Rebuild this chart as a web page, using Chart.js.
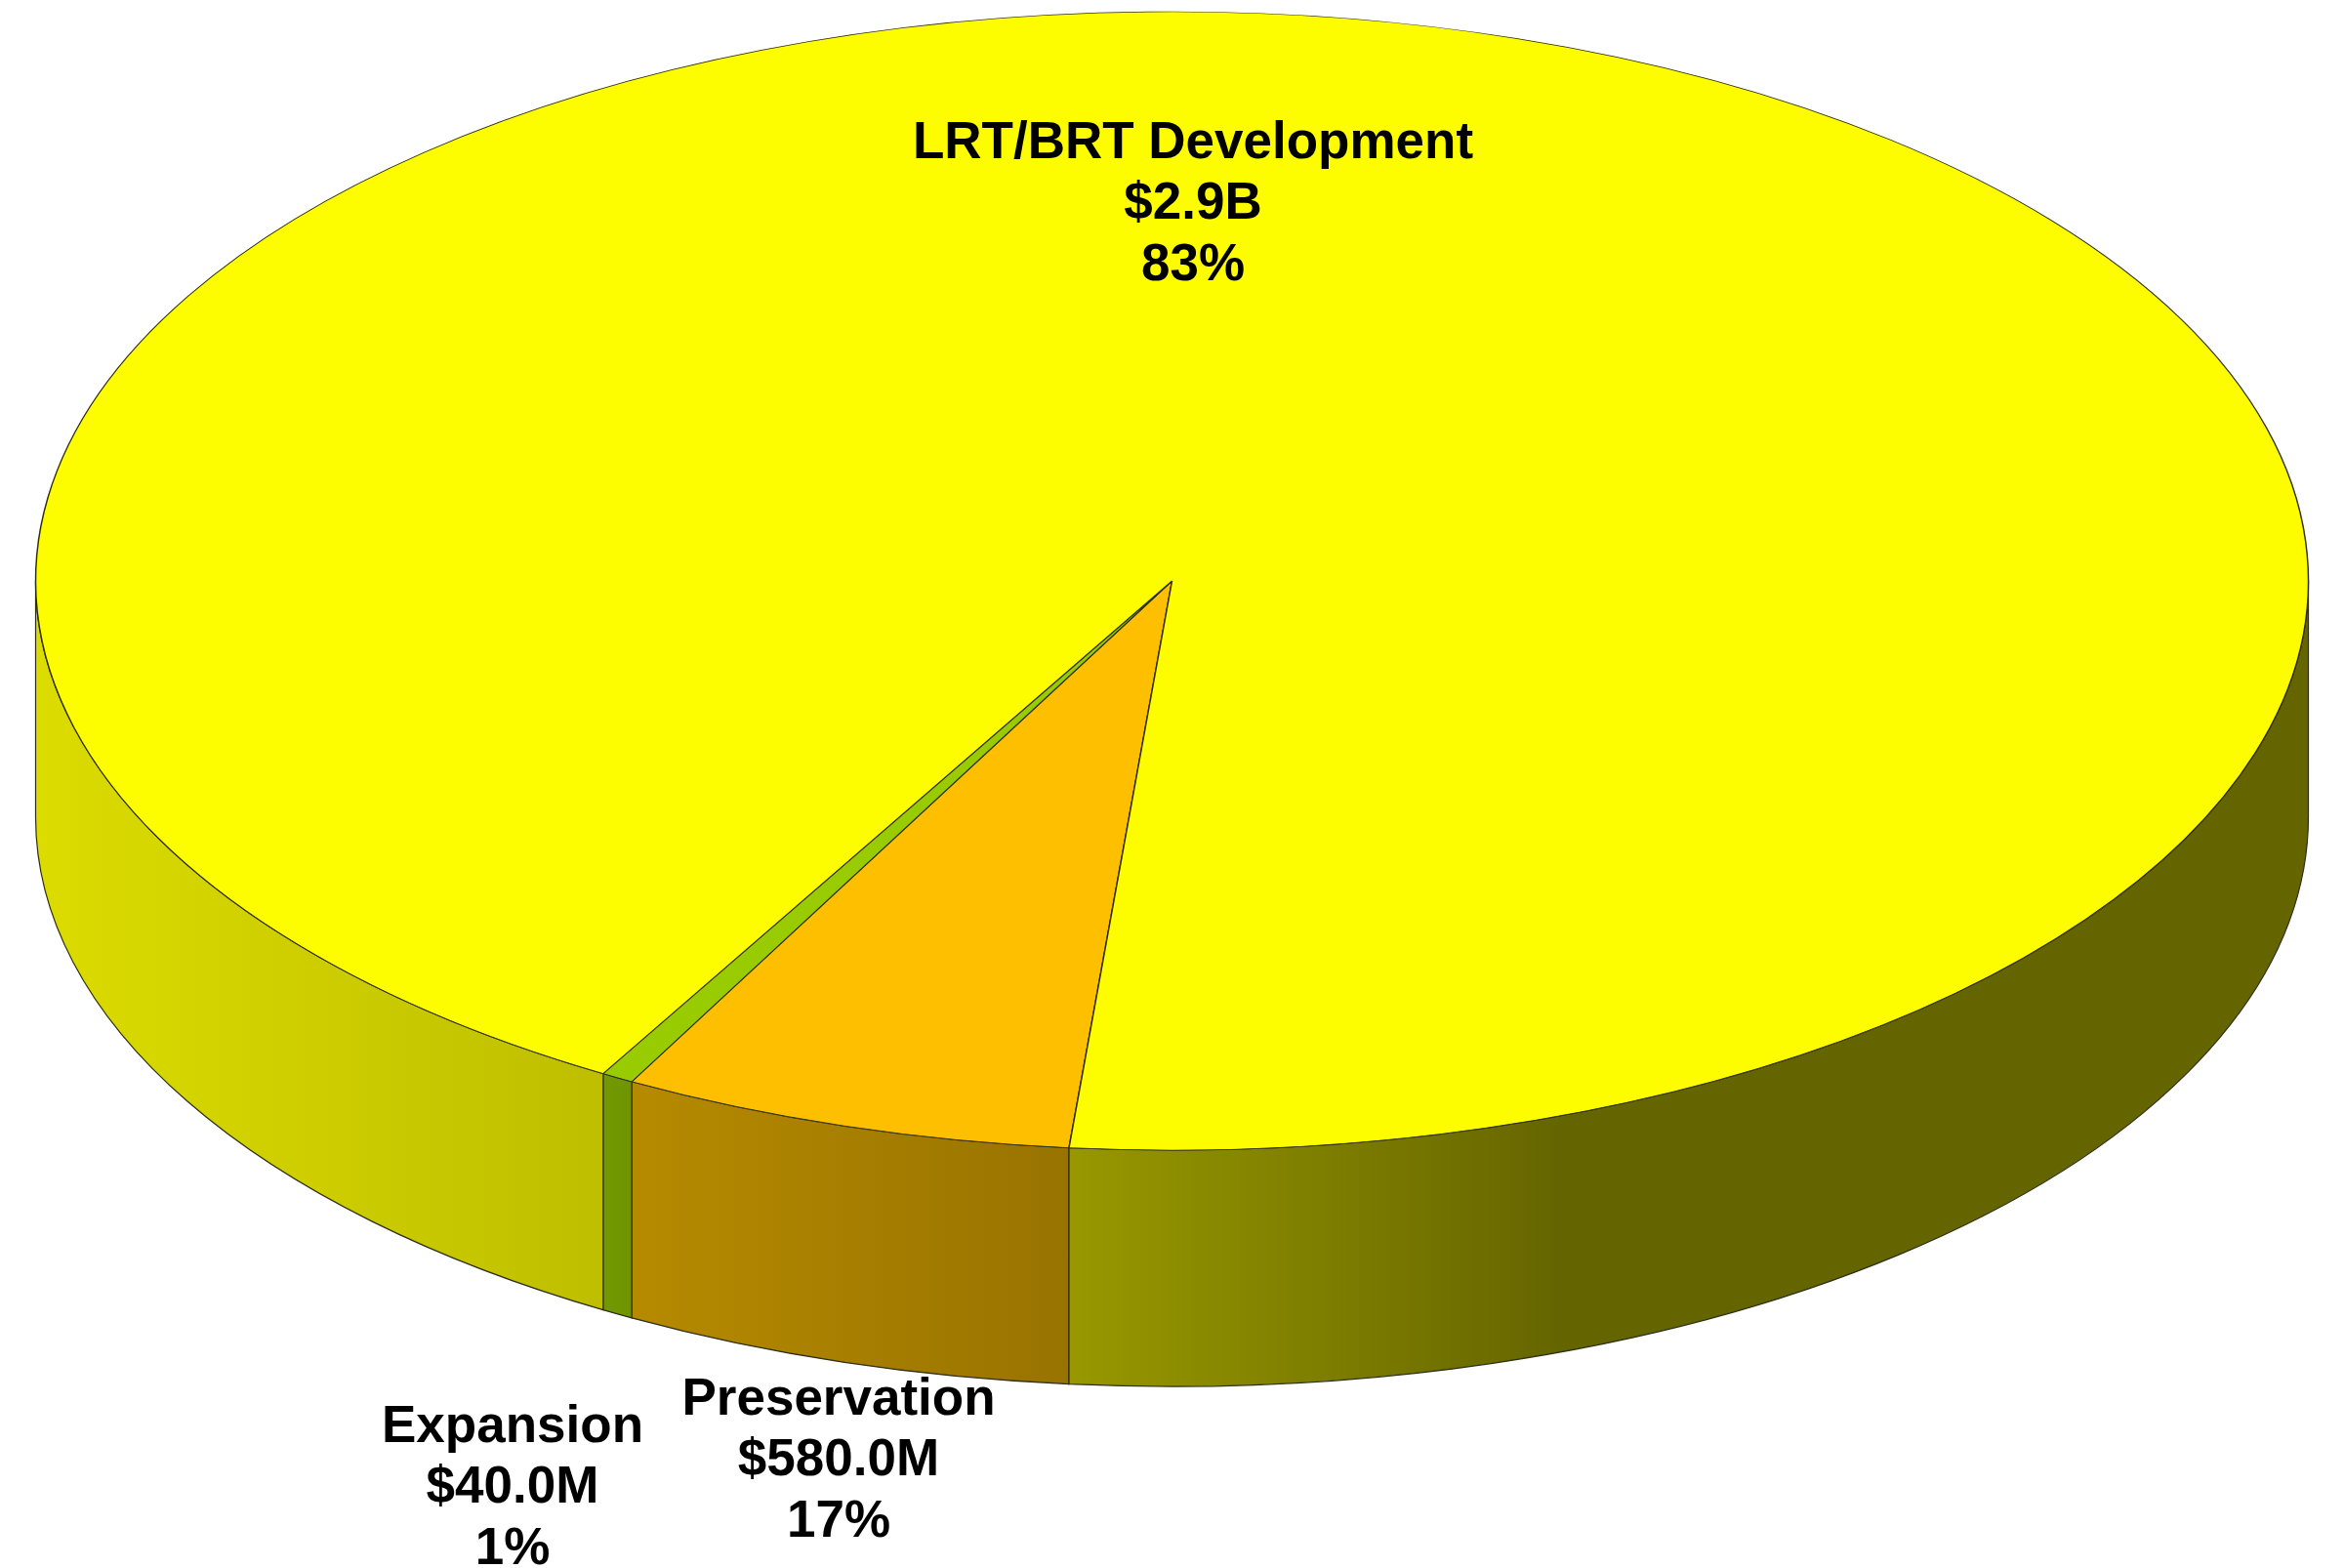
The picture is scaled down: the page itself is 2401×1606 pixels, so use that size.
<!DOCTYPE html>
<html>
<head>
<meta charset="utf-8">
<title>Funding pie</title>
<script src="https://cdn.jsdelivr.net/npm/chart.js@4"></script>
<style>
    html, body { margin: 0; padding: 0; background: #fff; }
    canvas { display: block; }
</style>
</head>
<body>
<canvas id="pieChart" width="2401" height="1606"></canvas>
<script>
// ========================================
// DATA
// ========================================
const categories = ['Preservation', 'Expansion', 'LRT/BRT Development'];
const amounts = ['$580.0M', '$40.0M', '$2.9B'];
const percents = ['17%', '1%', '83%'];
// share of the circle each slice really takes up in the picture
const sliceShares = [6.44, 0.46, 93.1];
const sliceColors = ['#fdbf00', '#99cc00', '#fdfd00'];

// ========================================
// 3D LOOK
// ========================================
const TILT = { cx: 1200.5, cy: 595, rx: 1164, ry: 583, depth: 242 };
const LINE_COLOR = '#2e2e14';
const LABEL_POS = [[1222, 147], [859, 1434], [525, 1462]];
const LINE_GAP = 62.5;

// wall brightness depending on x
const SHADE_STOPS = [[37, 0.87], [620, 0.75], [650, 0.72], [1095, 0.6], [1600, 0.4], [2364, 0.4]];

function shadeColor(hex, f) {
    const n = parseInt(hex.slice(1), 16);
    const r = Math.round((n >> 16 & 255) * f);
    const g = Math.round((n >> 8 & 255) * f);
    const b = Math.round((n & 255) * f);
    return `rgb(${r}, ${g}, ${b})`;
}

function drawWall(ctx, from, to, color) {
    const { cx, cy, rx, ry, depth } = TILT;
    const left = cx + rx * Math.cos(to);
    const right = cx + rx * Math.cos(from);

    const grad = ctx.createLinearGradient(37, 0, 2364, 0);
    SHADE_STOPS.forEach(([x, f]) => grad.addColorStop((x - 37) / 2327, shadeColor(color, f)));

    ctx.beginPath();
    ctx.ellipse(cx, cy, rx, ry, 0, from, to);
    ctx.lineTo(left, cy + ry * Math.sin(to) + depth);
    ctx.ellipse(cx, cy + depth, rx, ry, 0, to, from, true);
    ctx.lineTo(right, cy + ry * Math.sin(from));
    ctx.closePath();
    ctx.fillStyle = grad;
    ctx.fill();
    ctx.strokeStyle = LINE_COLOR;
    ctx.lineWidth = 1.2;
    ctx.stroke();
}

const tiltPlugin = {
    id: 'tilt',
    // side walls go under the top face, the arcs get squashed into an ellipse
    beforeDatasetDraw(chart) {
        const ctx = chart.ctx;
        const arcs = chart.getDatasetMeta(0).data;

        arcs.forEach((arc, i) => {
            [[0, Math.PI], [2 * Math.PI, 3 * Math.PI]].forEach(([lo, hi]) => {
                const from = Math.max(arc.startAngle, lo);
                const to = Math.min(arc.endAngle, hi);
                if (to > from) {
                    drawWall(ctx, from - lo, to - lo, sliceColors[i]);
                }
            });
        });

        const first = arcs[0];
        ctx.save();
        ctx.translate(TILT.cx, TILT.cy);
        ctx.scale(TILT.rx / first.outerRadius, TILT.ry / first.outerRadius);
        ctx.translate(-first.x, -first.y);
    },
    afterDatasetDraw(chart) {
        chart.ctx.restore();
    },
    afterDraw(chart) {
        const ctx = chart.ctx;
        ctx.save();
        ctx.fillStyle = '#000';
        ctx.font = 'bold 53px "Liberation Sans", Arial, sans-serif';
        ctx.textAlign = 'center';
        ctx.textBaseline = 'middle';
        categories.forEach((name, i) => {
            const pos = i === 2 ? LABEL_POS[0] : LABEL_POS[i + 1];
            ctx.fillText(name, pos[0], pos[1]);
            ctx.fillText(amounts[i], pos[0], pos[1] + LINE_GAP);
            ctx.fillText(percents[i], pos[0], pos[1] + LINE_GAP * 2);
        });
        ctx.restore();
    }
};

// ========================================
// INITIALIZE CHART
// ========================================
new Chart(document.getElementById('pieChart'), {
    type: 'pie',
    data: {
        labels: categories,
        datasets: [{
            data: sliceShares,
            backgroundColor: sliceColors,
            borderColor: LINE_COLOR,
            borderWidth: 1,
            clip: false
        }]
    },
    options: {
        responsive: false,
        animation: false,
        rotation: 185.2,
        plugins: {
            legend: { display: false },
            tooltip: { enabled: false }
        }
    },
    plugins: [tiltPlugin]
});
</script>
</body>
</html>
